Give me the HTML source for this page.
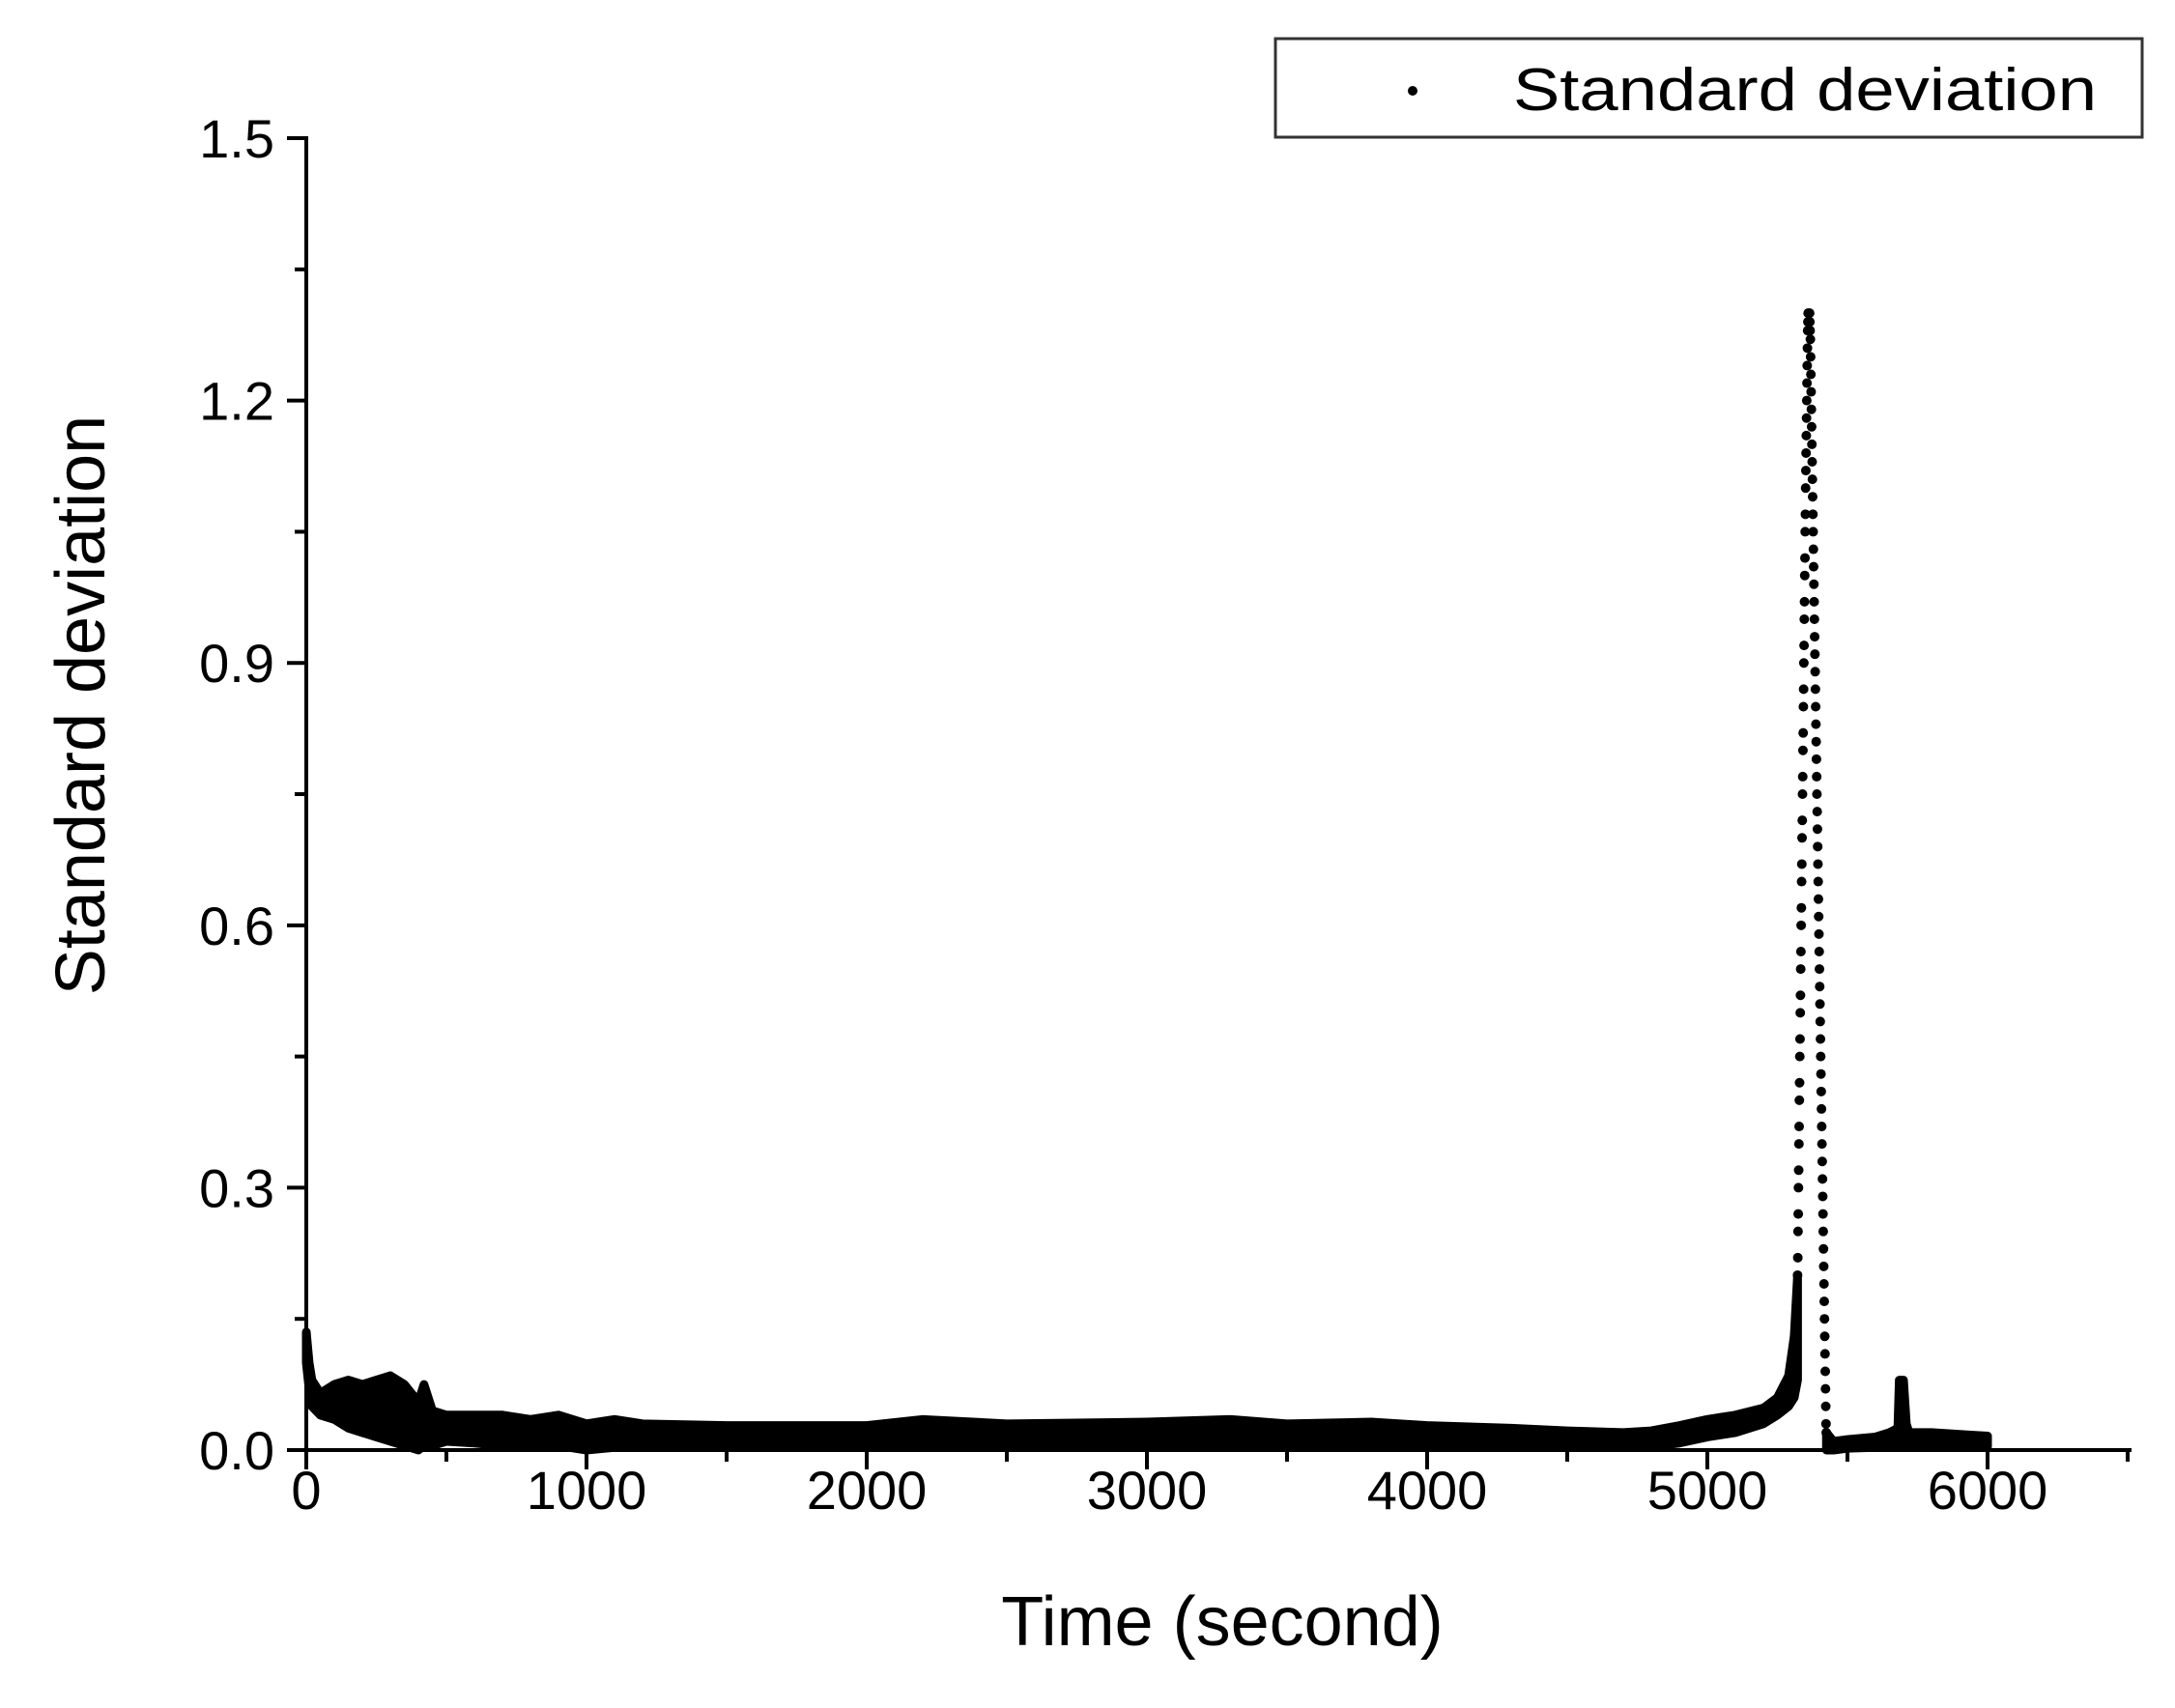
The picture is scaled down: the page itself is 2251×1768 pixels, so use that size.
<!DOCTYPE html>
<html><head><meta charset="utf-8"><style>
html,body{margin:0;padding:0;background:#fff;}
svg{display:block;font-family:"Liberation Sans",Arial,sans-serif;}
</style></head><body>
<svg id="chart" width="2251" height="1768" viewBox="0 0 2251 1768" xmlns="http://www.w3.org/2000/svg">
<rect width="2251" height="1768" fill="#fff"/>
<g id="plot"></g>
<g id="axes"></g>
<text x="1265" y="1703" font-size="72" text-anchor="middle">Time (second)</text>
<text transform="translate(108,730) rotate(-90)" font-size="72" text-anchor="middle">Standard deviation</text>
<g>
<rect x="1320" y="40" width="897" height="102" fill="#fff" stroke="#333" stroke-width="3"/>
<circle cx="1462" cy="94" r="5" fill="#000"/>
<text x="1566" y="114" font-size="62" textLength="604" lengthAdjust="spacingAndGlyphs">Standard deviation</text>
</g>
</svg>
<script>
// Data
const bandTimes = [0,10,20,50,100,150,200,250,300,350,400,420,450,500,600,700,800,900,1000,1100,1200,1500,1700,2000,2200,2500,3000,3300,3500,3800,4000,4300,4500,4700,4800,4900,5000,5100,5200,5250,5290,5310,5322];
const bandUpper = [0.135,0.10,0.08,0.065,0.075,0.08,0.075,0.08,0.085,0.075,0.055,0.075,0.045,0.04,0.04,0.04,0.035,0.04,0.03,0.035,0.03,0.028,0.028,0.028,0.035,0.03,0.032,0.035,0.03,0.032,0.028,0.025,0.022,0.02,0.022,0.028,0.035,0.04,0.048,0.06,0.085,0.13,0.2];
const bandLower = [0.10,0.07,0.05,0.04,0.035,0.025,0.02,0.015,0.01,0.005,0.0,0.005,0.005,0.01,0.008,0.005,0.005,0.005,0.0,0.003,0.004,0.004,0.004,0.005,0.005,0.006,0.007,0.006,0.006,0.006,0.005,0.004,0.004,0.003,0.004,0.008,0.015,0.02,0.03,0.04,0.05,0.06,0.08];
const tailTimes = [5425,5450,5500,5600,5650,5680,5685,5700,5710,5720,5800,5900,6000];
const tailUpper = [0.02,0.01,0.012,0.015,0.02,0.025,0.08,0.08,0.03,0.02,0.02,0.018,0.016];
const tailLower = [0.0,0.0,0.002,0.003,0.003,0.003,0.003,0.003,0.003,0.003,0.004,0.004,0.004];
const riseStart = 5322, riseStep = 0.8;
const riseValues = [0.20,0.22,0.25,0.27,0.30,0.32,0.35,0.37,0.40,0.42,0.45,0.47,0.50,0.52,0.55,0.57,0.60,0.62,0.65,0.67,0.70,0.72,0.75,0.77,0.80,0.82,0.85,0.87,0.90,0.92,0.95,0.97,1.00,1.02,1.05,1.07,1.10,1.12,1.14,1.16,1.18,1.20,1.22,1.24,1.26,1.28,1.29,1.30];
const fallStart = 5365, fallStep = 0.9;
const fallValues = [1.30,1.29,1.28,1.27,1.25,1.23,1.21,1.19,1.17,1.15,1.13,1.11,1.09,1.07,1.05,1.03,1.01,0.99,0.97,0.95,0.93,0.91,0.89,0.87,0.85,0.83,0.81,0.79,0.77,0.75,0.73,0.71,0.69,0.67,0.65,0.63,0.61,0.59,0.57,0.55,0.53,0.51,0.49,0.47,0.45,0.43,0.41,0.39,0.37,0.35,0.33,0.31,0.29,0.27,0.25,0.23,0.21,0.19,0.17,0.15,0.13,0.11,0.09,0.07,0.05,0.03,0.02];
const xTicks = [0,1000,2000,3000,4000,5000,6000];
const xTickLabels = ["0","1000","2000","3000","4000","5000","6000"];
const yTicks = [0,0.3,0.6,0.9,1.2,1.5];
const yTickLabels = ["0.0","0.3","0.6","0.9","1.2","1.5"];

const NS = "http://www.w3.org/2000/svg";
const X0 = 317, XS = 0.290, Y0 = 1501, YS = 905.3;
const xs = t => X0 + t * XS;
const ys = v => Y0 - v * YS;
function mk(tag, attrs, parent){const e=document.createElementNS(NS,tag);for(const k in attrs)e.setAttribute(k,attrs[k]);parent.appendChild(e);return e;}
const plot = document.getElementById('plot');
const axes = document.getElementById('axes');

function band(times, up, lo, name){
  let pts = times.map((t,i)=>xs(t)+','+ys(up[i]));
  for(let i=times.length-1;i>=0;i--) pts.push(xs(times[i])+','+ys(lo[i]));
  const p = mk('polygon',{points:pts.join(' '),fill:'#000',stroke:'#000','stroke-width':9,'stroke-linejoin':'round'},plot);
  
  
}
band(bandTimes, bandUpper, bandLower, 'baseline-band');
band(tailTimes, tailUpper, tailLower, 'tail-band');

riseValues.forEach((v,i)=>{
  const c = mk('circle',{cx:xs(riseStart+i*riseStep),cy:ys(v),r:5,fill:'#000'},plot);
  
  
});
fallValues.forEach((v,i)=>{
  const c = mk('circle',{cx:xs(fallStart+i*fallStep),cy:ys(v),r:5,fill:'#000'},plot);
  
  
});

const xl = mk('line',{x1:X0-4,y1:Y0,x2:2206,y2:Y0,stroke:'#000','stroke-width':4},axes);


const yl = mk('line',{x1:X0,y1:Y0+2,x2:X0,y2:ys(1.5)-2,stroke:'#000','stroke-width':4},axes);



for(let t=0;t<=6500;t+=500){
  const major = t%1000===0;
  const l = mk('line',{x1:xs(t),y1:Y0,x2:xs(t),y2:Y0+(major?20:12),stroke:'#000','stroke-width':4},axes);
  
  
}
xTicks.forEach((t,i)=>{
  const tx = mk('text',{x:xs(t),y:1562,'font-size':56,'text-anchor':'middle'},axes);
  tx.textContent = xTickLabels[i];
  
  
});
for(let k=0;k<=10;k++){
  const v = k*0.15;
  const major = k%2===0;
  const l = mk('line',{x1:X0-(major?20:12),y1:ys(v),x2:X0,y2:ys(v),stroke:'#000','stroke-width':4},axes);
  
  
}
yTicks.forEach((v,i)=>{
  const tx = mk('text',{x:284,y:ys(v)+20,'font-size':56,'text-anchor':'end'},axes);
  tx.textContent = yTickLabels[i];
  
  
});
</script>
</body></html>
